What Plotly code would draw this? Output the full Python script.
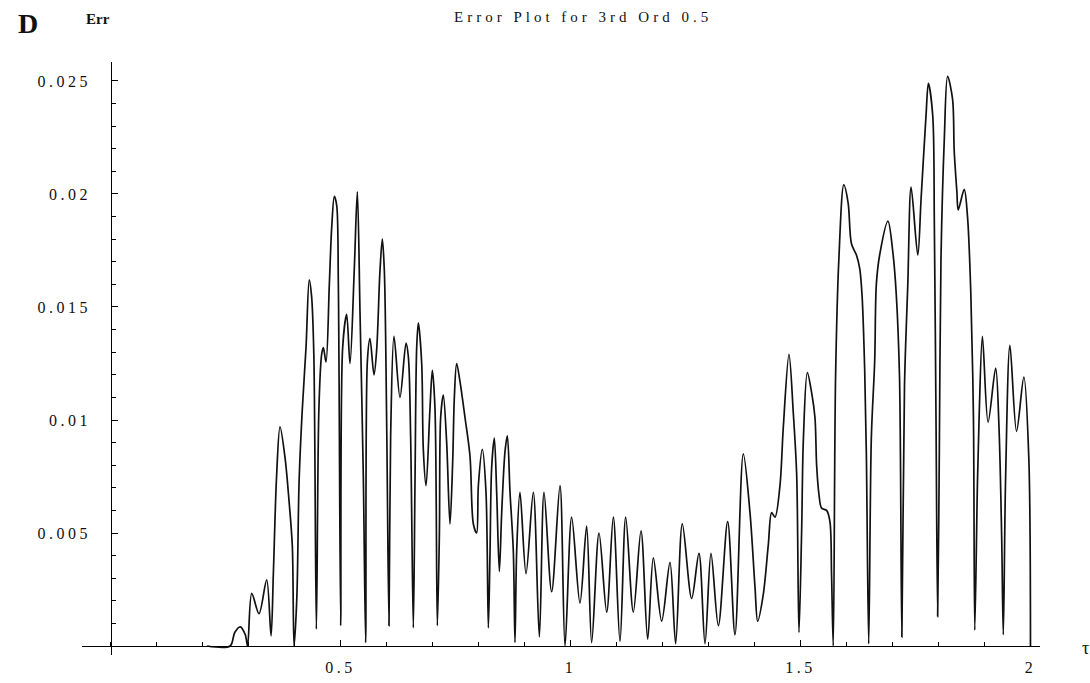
import plotly.graph_objects as go

# Absolute error of the 3rd-order approximation (alpha = 0.5) versus tau
tau = [
    0.21, 0.26, 0.27, 0.282, 0.293, 0.298, 0.307, 0.3228, 0.3395, 0.349,
    0.354, 0.361, 0.3685, 0.3793, 0.389, 0.3953, 0.399, 0.405, 0.410, 0.417,
    0.425, 0.432, 0.437, 0.442, 0.4475, 0.453, 0.459, 0.4627, 0.4685, 0.4757,
    0.4808, 0.4866, 0.4917, 0.4953, 0.5004, 0.5047, 0.5134, 0.5206, 0.530, 0.5366,
    0.5424, 0.5496, 0.5547, 0.5584, 0.5641, 0.5728, 0.5786, 0.5858, 0.5909, 0.5953,
    0.6004, 0.6054, 0.609, 0.6163, 0.6293, 0.6424, 0.6475, 0.6525, 0.6583, 0.662,
    0.6656, 0.6692, 0.6765, 0.680, 0.686, 0.6945, 0.6996, 0.7054, 0.7105, 0.715,
    0.7177, 0.7235, 0.7308, 0.738, 0.7438, 0.7475, 0.7525, 0.7598, 0.7707, 0.7815,
    0.7888, 0.796, 0.7997, 0.8083, 0.8163, 0.8214, 0.825, 0.8286, 0.8344, 0.8395,
    0.8453, 0.8504, 0.8576, 0.8627, 0.8685, 0.8757, 0.8793, 0.883, 0.8902, 0.9033,
    0.9192, 0.9323, 0.9424, 0.959, 0.9772, 0.9881, 1.0025, 1.0206, 1.0351, 1.046,
    1.062, 1.0787, 1.0931, 1.1076, 1.12, 1.1366, 1.1533, 1.1678, 1.1801, 1.1982,
    1.2163, 1.2286, 1.2431, 1.2634, 1.2793, 1.2924, 1.3054, 1.3214, 1.3417, 1.3576,
    1.3757, 1.3902, 1.4011, 1.4069, 1.4192, 1.4301, 1.4373, 1.4446, 1.4554, 1.4627,
    1.475, 1.4844, 1.4917, 1.4967, 1.5025, 1.5062, 1.5149, 1.5243, 1.5315, 1.5351,
    1.5402, 1.5459, 1.5568, 1.564, 1.5676, 1.5712, 1.5762, 1.5834, 1.5942, 1.6036,
    1.6108, 1.6216, 1.6288, 1.6339, 1.6396, 1.6432, 1.6483, 1.654, 1.6613, 1.6649,
    1.6721, 1.6901, 1.7009, 1.7081, 1.7153, 1.7204, 1.7261, 1.7333, 1.7405, 1.755,
    1.7622, 1.773, 1.778, 1.7874, 1.791, 1.7946, 1.7982, 1.8018, 1.8054, 1.8126,
    1.8198, 1.8306, 1.8342, 1.84, 1.8429, 1.8559, 1.8631, 1.8703, 1.876, 1.8789,
    1.8847, 1.8883, 1.8955, 1.9078, 1.9243, 1.9315, 1.9373, 1.9409, 1.9459, 1.9553,
    1.9697, 1.9856, 1.9964, 2.0,
]

err = [
    0.0, 0.0, 0.0006, 0.00085, 0.0005, 0.0, 0.00233, 0.00143, 0.00293, 0.00045,
    0.0032, 0.0075, 0.0097, 0.00835, 0.0062, 0.0044, 0.0, 0.0021, 0.0073, 0.0105,
    0.0132, 0.0162, 0.0155, 0.0129, 0.00075, 0.0105, 0.0129, 0.0132, 0.01257, 0.016,
    0.0185, 0.0199, 0.0195, 0.016, 0.0009, 0.0132, 0.01467, 0.0125, 0.0167, 0.0201,
    0.01475, 0.0075, 0.00015, 0.0126, 0.0136, 0.012, 0.0131, 0.0166, 0.018, 0.0166,
    0.0098, 0.0009, 0.0093, 0.0137, 0.011, 0.0134, 0.0128, 0.0092, 0.0008, 0.0074,
    0.0132, 0.0143, 0.0125, 0.0087, 0.0071, 0.0105, 0.0122, 0.0105, 0.0009, 0.005,
    0.0101, 0.0111, 0.009, 0.0054, 0.0081, 0.011, 0.0125, 0.0117, 0.0101, 0.0084,
    0.0054, 0.005, 0.0071, 0.0087, 0.0068, 0.0008, 0.0041, 0.0079, 0.0092, 0.0068,
    0.0033, 0.0059, 0.0086, 0.0093, 0.0068, 0.0042, 0.00015, 0.0042, 0.0068, 0.0032,
    0.0068, 0.0004, 0.0068, 0.0024, 0.0071, 0.0, 0.0057, 0.0019, 0.0053, 0.00015,
    0.005, 0.0015, 0.0057, 0.0002, 0.0057, 0.0015, 0.0051, 0.0003, 0.0039, 0.0011,
    0.0037, 0.0001, 0.0054, 0.0021, 0.0041, 0.0001, 0.0041, 0.0009, 0.0055, 0.0005,
    0.0085, 0.0059, 0.0026, 0.0011, 0.0023, 0.0045, 0.0059, 0.0057, 0.0071, 0.0097,
    0.0129, 0.0103, 0.0076, 0.0006, 0.0051, 0.0091, 0.0121, 0.0112, 0.0101, 0.008,
    0.0067, 0.0061, 0.006, 0.0055, 0.0031, 0.0, 0.0118, 0.0171, 0.0204, 0.0196,
    0.0178, 0.0173, 0.0167, 0.0155, 0.0122, 0.0085, 0.0001, 0.0092, 0.0126, 0.016,
    0.0173, 0.0188, 0.0174, 0.0156, 0.0119, 0.0004, 0.0115, 0.016, 0.0203, 0.0173,
    0.0198, 0.0235, 0.0249, 0.0235, 0.0187, 0.0101, 0.0013, 0.0085, 0.0171, 0.0224,
    0.0252, 0.0242, 0.0219, 0.0201, 0.0193, 0.0202, 0.019, 0.0156, 0.0101, 0.0007,
    0.0072, 0.0101, 0.0137, 0.0099, 0.0123, 0.0097, 0.0049, 0.0005, 0.0074, 0.0133,
    0.0095, 0.0119, 0.0083, 0.0,
]

x_ticks = [0.5, 1, 1.5, 2]
x_tick_text = ["0.5", "1", "1.5", "2"]
y_ticks = [0.005, 0.01, 0.015, 0.02, 0.025]
y_tick_text = ["0.005", "0.01", "0.015", "0.02", "0.025"]

X_RANGE = [-0.062, 2.0207]
Y_RANGE = [-0.000398, 0.02584]

SERIF = "Liberation Serif, Times New Roman, serif"


def spaced(text, px):
    return f'<span style="letter-spacing:{px}px">{text}</span>'


# where the axes cross (origin) in paper fractions
x_axis_pos = (0 - Y_RANGE[0]) / (Y_RANGE[1] - Y_RANGE[0])
y_axis_pos = (0 - X_RANGE[0]) / (X_RANGE[1] - X_RANGE[0])

fig = go.Figure()
fig.add_trace(go.Scatter(
    x=tau, y=err, mode="lines",
    line=dict(color="#111111", width=1.7, shape="spline", smoothing=0.9),
    hoverinfo="skip", showlegend=False,
))

axis_common = dict(
    showgrid=False, zeroline=False, showline=True,
    linecolor="black", linewidth=1.4,
    ticks="inside", ticklen=6, tickwidth=1, tickcolor="black",
    tickfont=dict(family=SERIF, size=16, color="#111111"),
    anchor="free", fixedrange=True, automargin=False,
)

fig.update_xaxes(
    range=X_RANGE, position=x_axis_pos,
    tickvals=x_ticks, ticktext=[spaced(t, 3.5) for t in x_tick_text],
    minor=dict(ticks="inside", ticklen=4, tickwidth=1, tickcolor="black",
               dtick=0.1, tick0=0),
    ticklabelstandoff=7,
    **axis_common,
)
fig.update_yaxes(
    range=Y_RANGE, position=y_axis_pos,
    tickvals=y_ticks, ticktext=[spaced(t, 3.5) for t in y_tick_text],
    minor=dict(ticks="inside", ticklen=4, tickwidth=1, tickcolor="black",
               dtick=0.001, tick0=0),
    ticklabelstandoff=16,
    **axis_common,
)

L, R, T, B = 82, 50, 62, 28
W, H = 1090, 683
pw, ph = W - L - R, H - T - B


def px(xp):
    return (xp - L) / pw


def py(yp):
    return (H - B - yp) / ph


annotations = [
    dict(text="<b>D</b>", x=px(28), y=py(23),
         font=dict(family=SERIF, size=28, color="#111111")),
    dict(text="<b>Err</b>", x=px(98), y=py(19),
         font=dict(family=SERIF, size=15, color="#111111")),
    dict(text=spaced("Error Plot for 3rd Ord 0.5", 4), x=px(583), y=py(17),
         font=dict(family=SERIF, size=15, color="#111111")),
    dict(text="τ", x=px(1085), y=py(648),
         font=dict(family=SERIF, size=18, color="#111111")),
]
for a in annotations:
    a.update(xref="paper", yref="paper", showarrow=False,
             xanchor="center", yanchor="middle")

fig.update_layout(
    width=W, height=H,
    margin=dict(l=L, r=R, t=T, b=B, autoexpand=False),
    paper_bgcolor="white", plot_bgcolor="white",
    annotations=annotations,
    showlegend=False,
)

fig.write_html("out.html", config={"displayModeBar": False})
